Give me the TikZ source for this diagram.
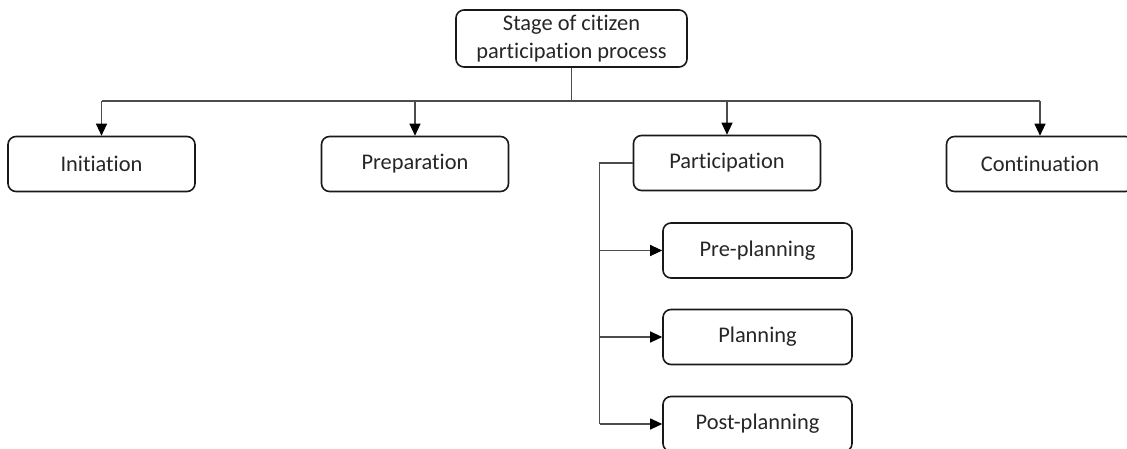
\documentclass[tikz,border=0pt]{standalone}
\usepackage{fontspec}
\setmainfont{Carlito}[Ligatures={NoCommon,NoRare}]
\usetikzlibrary{arrows.meta}
\begin{document}
\begin{tikzpicture}[x=1pt,y=-1pt,
  stagebox/.style={draw=black!90, line width=1.6pt, rounded corners=8pt,
    minimum width=187pt, minimum height=55pt, inner sep=0pt,
    align=center, text=black!85, font=\fontsize{22.4}{27.3}\selectfont},
  conn/.style={draw=black!70, line width=1.1pt},
  arr/.style={-{Triangle[length=12pt,width=11pt,color=black]}}]
\clip (0,0) rectangle (1127,448);
\fill[white] (0,0) rectangle (1127,448);

% root of the tree
\node[stagebox, minimum width=231pt, minimum height=57pt] (top) at (571.5,38.5)
  {Stage of citizen\\participation process};

% main stages
\node[stagebox] (init) at (101.5,164) {Initiation};
\node[stagebox] (prep) at (415,164) {Preparation};
\node[stagebox] (part) at (727,163) {Participation};
\node[stagebox] (cont) at (1040,164) {Continuation};

% sub-stages of participation
\node[stagebox, minimum width=189pt] (pre)  at (757.5,250.5) {Pre-planning};
\node[stagebox, minimum width=189pt] (plan) at (757.5,337) {Planning};
\node[stagebox, minimum width=189pt] (post) at (757.5,424) {Post-planning};

% distribution bus below the root
\coordinate (bus) at (571.5,101);
\draw[conn] (top.south) -- (bus);
\draw[conn] (bus -| init.north) -- (bus -| cont.north);
\foreach \n in {init,prep,part,cont}
  \draw[conn,arr] (bus -| \n.north) -- (\n.north);

% trunk on the left of participation
\draw[conn] (part.west) -- ++(-33,0) coordinate (trunk) -- (trunk |- post.west);
\foreach \n in {pre,plan,post}
  \draw[conn,arr] (trunk |- \n.west) -- (\n.west);
\end{tikzpicture}
\end{document}
